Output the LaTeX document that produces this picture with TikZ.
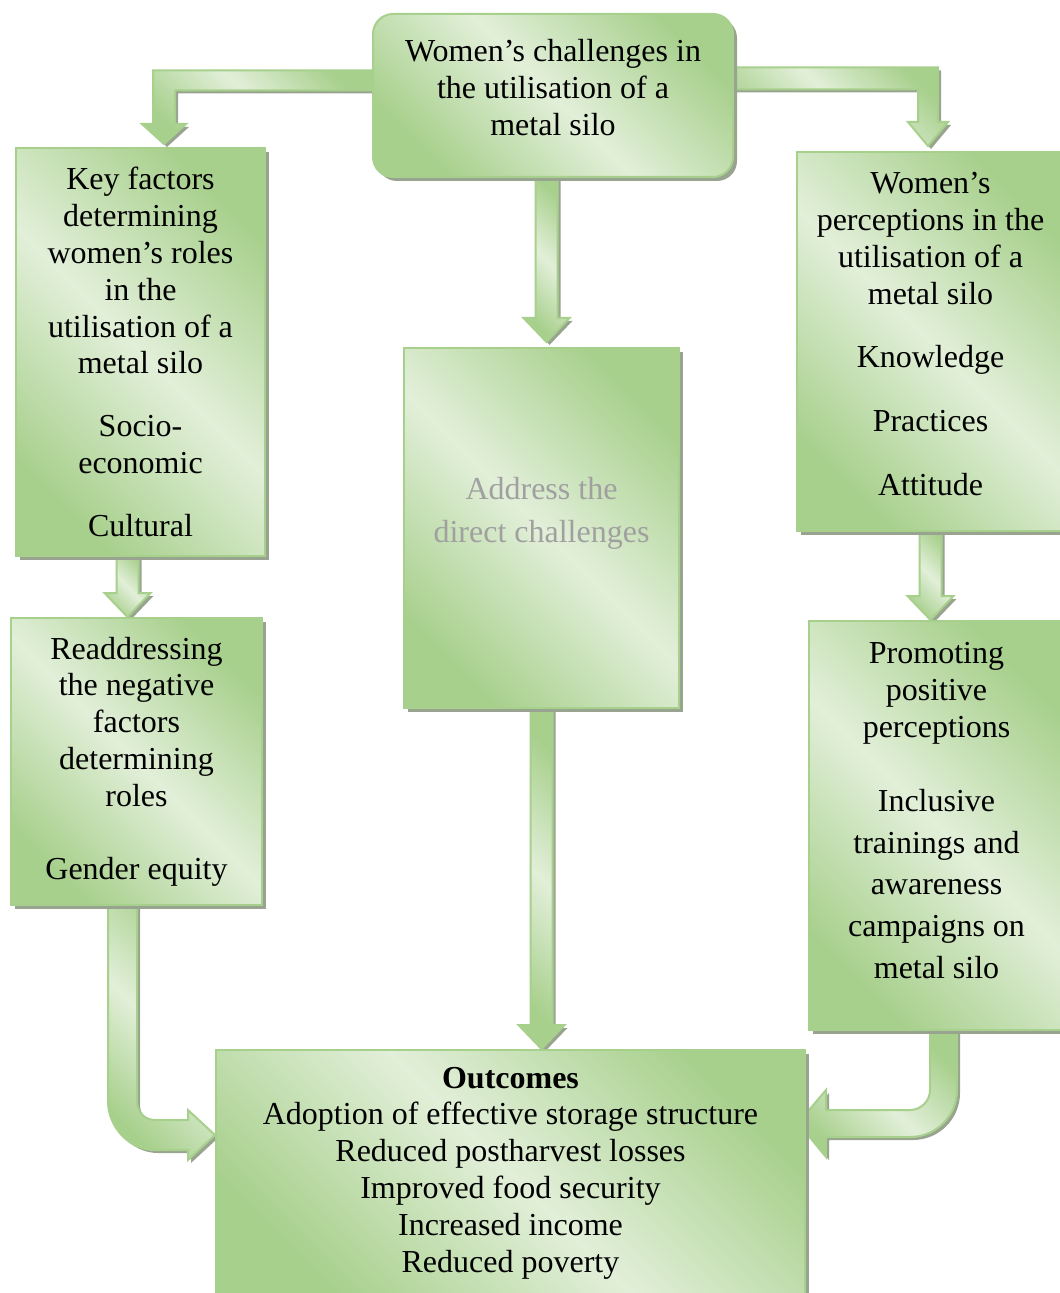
\documentclass[tikz,border=0pt]{standalone}
\usepackage{fontspec}
\setmainfont{Liberation Serif}
\newfontfamily\silofont{Liberation Serif}
\usepackage{tikz}
\usetikzlibrary{positioning}
\usetikzlibrary{calc}
\usetikzlibrary{shadows}
\pgfdeclarelayer{silobg}
\pgfsetlayers{silobg,main}
\definecolor{silolight}{HTML}{E2EFD9}
\definecolor{silogreen}{HTML}{A8D08D}
\definecolor{siloshadow}{HTML}{98A48F}
\definecolor{silograytext}{HTML}{A0A0A0}
\tikzset{
	siloshade/.style={top color=silogreen, bottom color=silogreen, middle color=silolight, shading angle=-45},
	silobox/.style={draw=silogreen, line width=1pt, siloshade, drop shadow={shadow xshift=2pt, shadow yshift=-2pt, fill=siloshadow, opacity=1}, align=center, inner sep=2pt, font=\silofont\fontsize{16pt}{18.4pt}\selectfont},
	siloarrow/.style={draw=silogreen, line width=1pt, siloshade, drop shadow={shadow xshift=1.5pt, shadow yshift=-1.5pt, fill=siloshadow, opacity=1}}
}
% straight block arrow pointing down, #1 top of shaft, #2 tip (same x)
\newcommand{\blockdown}[2]{%
	\path[siloarrow] ($(#1)+(-11,0)$) -- ($(#2)+(-11,-24)$) -- ($(#2)+(-23,-24)$) -- (#2) -- ($(#2)+(23,-24)$) -- ($(#2)+(11,-24)$) -- ($(#1)+(11,0)$) -- cycle;}

\begin{document}
\begin{tikzpicture}[x=0.5pt,y=-0.5pt]
	\useasboundingbox (0,0) rectangle (1059,1293);
	% Draw the boxes
	\node [silobox, rounded corners=10pt, minimum width=180pt, minimum height=81.5pt, text depth=8pt] at (553,95.5) (chal) {Women’s challenges in\\ the utilisation of a\\ metal silo};
	% Left column
	\node [silobox, minimum width=124.5pt, minimum height=204pt] at (140.5,352) (keyf) {Key factors\\ determining\\ women’s roles\\ in the\\ utilisation of a\\ metal silo\\[13pt] Socio-\\ economic\\[13pt] Cultural};
	\node [silobox, minimum width=125.5pt, minimum height=143.5pt] at (136.5,761.5) (readd) {Readdressing\\ the negative\\ factors\\ determining\\ roles\\[18pt] Gender equity};
	% Middle column
	\node [silobox, minimum width=137.5pt, minimum height=180pt, text depth=18pt, text=silograytext] at (541.5,528) (mid) {Address the\\[3pt] direct challenges};
	% Right column
	\node [silobox, minimum width=133.5pt, minimum height=189.5pt, text depth=7.5pt] at (930.5,341.5) (wpe) {Women’s\\ perceptions in the\\ utilisation of a\\ metal silo\\[13.5pt] Knowledge\\[13.5pt] Practices\\[13.5pt] Attitude};
	\node [silobox, minimum width=127.5pt, minimum height=204.5pt, text depth=15pt] at (936.5,825.5) (promo) {Promoting\\ positive\\ perceptions\\[18.5pt] Inclusive\\[2.5pt] trainings and\\[2.5pt] awareness\\[2.5pt] campaigns on\\[2.5pt] metal silo};
	% Outcomes
	\node [silobox, minimum width=294.5pt, minimum height=123pt] at (510.5,1173) (outc) {\textbf{Outcomes}\\ Adoption of effective storage structure\\ Reduced postharvest losses\\ Improved food security\\ Increased income\\ Reduced poverty};

	% Draw the block arrows between boxes
	\begin{pgfonlayer}{silobg}
	% top to left
	\coordinate (tlS) at ($(chal.west)+(4,-15)$);
	\coordinate (tlT) at ($(keyf.north)+(23.5,-3)$);
	\coordinate (tlC) at (tlT |- tlS);
	\path[siloarrow] ($(tlS)+(0,-10)$) -- ($(tlC)+(-11,-10)$) -- ($(tlT)+(-11,-20)$) -- ($(tlT)+(-22,-20)$) -- (tlT) -- ($(tlT)+(22,-20)$) -- ($(tlT)+(11,-20)$) -- ($(tlC)+(11,10)$) -- ($(tlS)+(0,10)$) -- cycle;
	% top to right
	\coordinate (trS) at ($(chal.east)+(-4,-17)$);
	\coordinate (trT) at ($(wpe.north)+(-2.5,-5)$);
	\coordinate (trC) at (trT |- trS);
	\path[siloarrow] ($(trS)+(0,-11)$) -- ($(trC)+(10,-11)$) -- ($(trT)+(10,-24)$) -- ($(trT)+(20,-24)$) -- (trT) -- ($(trT)+(-20,-24)$) -- ($(trT)+(-10,-24)$) -- ($(trC)+(-10,11)$) -- ($(trS)+(0,11)$) -- cycle;
	% straight ones
	\coordinate (mdS) at ($(mid.north |- chal.south)+(5,0)$);
	\coordinate (mdT) at ($(mid.north)+(5,-5)$);
	\blockdown{mdS}{mdT}
	\coordinate (moS) at (mid.south);
	\coordinate (moT) at (mid.south |- outc.north);
	\blockdown{moS}{moT}
	\coordinate (krS) at ($(keyf.south)+(-13,0)$);
	\coordinate (krT) at (krS |- readd.north);
	\blockdown{krS}{krT}
	\coordinate (wpS) at (wpe.south);
	\coordinate (wpT) at (wpS |- promo.north);
	\blockdown{wpS}{wpT}
	% left column to outcomes
	\coordinate (lcS) at ($(readd.south)+(-14,0)$);
	\coordinate (lcT) at ($(outc.west)+(0,-38)$);
	\coordinate (lcC) at (lcS |- lcT);
	\path[siloarrow] ($(lcS)+(-14.5,0)$) -- ($(lcC)+(-14.5,-34)$) .. controls ($(lcC)+(-14.5,-8)$) and ($(lcC)+(6.5,15)$) .. ($(lcC)+(32.5,15)$) -- ($(lcT)+(-27,15)$) -- ($(lcT)+(-27,25)$) -- (lcT) -- ($(lcT)+(-27,-25)$) -- ($(lcT)+(-27,-15)$) -- ($(lcC)+(32.5,-15)$) .. controls ($(lcC)+(22.5,-15)$) and ($(lcC)+(14.5,-23)$) .. ($(lcC)+(14.5,-33)$) -- ($(lcS)+(14.5,0)$) -- cycle;
	% right column to outcomes
	\coordinate (rcS) at ($(promo.south)+(7,0)$);
	\coordinate (rcT) at ($(outc.east)+(-8,-50)$);
	\coordinate (rcC) at (rcS |- rcT);
	\path[siloarrow] ($(rcS)+(-13.5,0)$) -- ($(rcC)+(-13.5,-33)$) .. controls ($(rcC)+(-13.5,-22)$) and ($(rcC)+(-22.5,-13)$) .. ($(rcC)+(-33.5,-13)$) -- ($(rcT)+(28,-13)$) -- ($(rcT)+(28,-33)$) -- (rcT) -- ($(rcT)+(28,34)$) -- ($(rcT)+(28,14)$) -- ($(rcC)+(-33.5,14)$) .. controls ($(rcC)+(-7.5,14)$) and ($(rcC)+(13.5,-7)$) .. ($(rcC)+(13.5,-33)$) -- ($(rcS)+(13.5,0)$) -- cycle;
	\end{pgfonlayer}
\end{tikzpicture}
\end{document}
